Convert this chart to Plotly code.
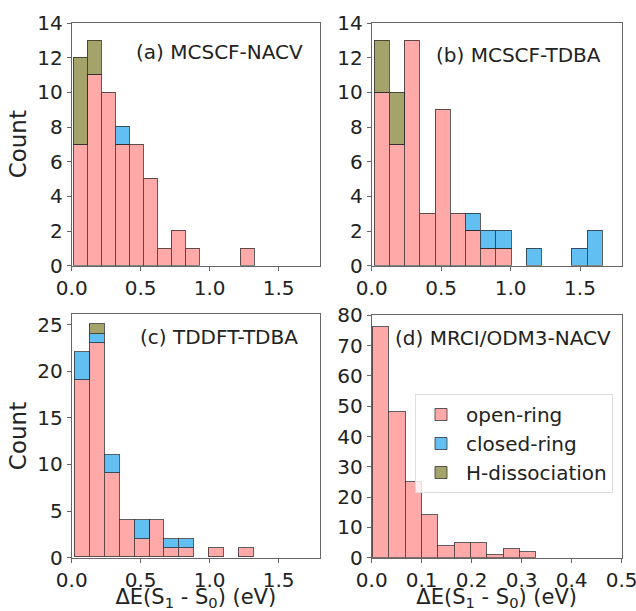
import plotly.graph_objects as go

# ---------------- data ----------------
categories = ["open-ring", "closed-ring", "H-dissociation"]
panel_titles = ["(a) MCSCF-NACV", "(b) MCSCF-TDBA", "(c) TDDFT-TDBA", "(d) MRCI/ODM3-NACV"]

# histogram bin layout per panel (first edge, bin width) in eV
bin_start = [0.016, 0.020, 0.024, 0.002]
bin_width = [0.101, 0.1095, 0.1077, 0.0327]

# (a) MCSCF-NACV
a_open = [7, 11, 10, 7, 7, 5, 1, 2, 1, 0, 0, 0, 1]
a_closed = [0, 0, 0, 1, 0, 0, 0, 0, 0, 0, 0, 0, 0]
a_hdis = [5, 2, 0, 0, 0, 0, 0, 0, 0, 0, 0, 0, 0]
# (b) MCSCF-TDBA
b_open = [10, 7, 13, 3, 9, 3, 2, 1, 1, 0, 0, 0, 0, 0, 0]
b_closed = [0, 0, 0, 0, 0, 0, 1, 1, 1, 0, 1, 0, 0, 1, 2]
b_hdis = [3, 3, 0, 0, 0, 0, 0, 0, 0, 0, 0, 0, 0, 0, 0]
# (c) TDDFT-TDBA
c_open = [19, 23, 9, 4, 2, 4, 1, 1, 0, 1, 0, 1]
c_closed = [3, 1, 2, 0, 2, 0, 1, 1, 0, 0, 0, 0]
c_hdis = [0, 1, 0, 0, 0, 0, 0, 0, 0, 0, 0, 0]
# (d) MRCI/ODM3-NACV
d_open = [76, 48, 25, 14, 4, 5, 5, 1, 3, 2]
d_closed = [0, 0, 0, 0, 0, 0, 0, 0, 0, 0]
d_hdis = [0, 0, 0, 0, 0, 0, 0, 0, 0, 0]

x_tickvals = [[0.0, 0.5, 1.0, 1.5], [0.0, 0.5, 1.0, 1.5], [0.0, 0.5, 1.0, 1.5],
              [0.0, 0.1, 0.2, 0.3, 0.4, 0.5]]
y_tickvals = [[0, 2, 4, 6, 8, 10, 12, 14], [0, 2, 4, 6, 8, 10, 12, 14],
              [0, 5, 10, 15, 20, 25], [0, 10, 20, 30, 40, 50, 60, 70, 80]]
x_ranges = [[0, 1.8], [0, 1.8], [0, 1.8], [0, 0.5002]]
y_ranges = [[0, 14.02], [0, 14.02], [0, 26.1], [0, 80.1]]

# ---------------- styling ----------------
W, H = 636, 611
colors = ["#FFA9A9", "#62BFF1", "#A3A36A"]
edge = "rgba(40,40,40,0.75)"
FONT = "DejaVu Sans"
TXT = "#222222"
SPINE = "#666666"
FS = 20

# axes boxes in pixels: (left, right, top, bottom)
boxes = [(71.7, 320.0, 22.7, 265.7), (371.7, 621.7, 22.7, 265.7),
         (71.7, 320.0, 314.3, 557.7), (371.7, 621.7, 315.0, 557.7)]

panels = [(a_open, a_closed, a_hdis), (b_open, b_closed, b_hdis),
          (c_open, c_closed, c_hdis), (d_open, d_closed, d_hdis)]

fig = go.Figure()
for p, series in enumerate(panels):
    n = len(series[0])
    centers = [bin_start[p] + bin_width[p] * (i + 0.5) for i in range(n)]
    xa = "x" if p == 0 else f"x{p+1}"
    ya = "y" if p == 0 else f"y{p+1}"
    for k, vals in enumerate(series):
        yv = [v if v > 0 else None for v in vals]
        fig.add_trace(go.Bar(
            x=centers, y=yv, width=[bin_width[p]] * n,
            name=categories[k], legendgroup=categories[k],
            showlegend=(p == 0),
            marker=dict(color=colors[k], line=dict(color=edge, width=1)),
            xaxis=xa, yaxis=ya,
        ))

layout = dict(
    width=W, height=H, margin=dict(l=0, r=0, t=0, b=0, autoexpand=False),
    paper_bgcolor="white", plot_bgcolor="white",
    barmode="stack", bargap=0,
    font=dict(family=FONT, size=FS, color=TXT),
    legend=dict(x=415 / W, y=1 - 394 / H, xanchor="left", yanchor="top",
                bordercolor="#DDDDDD", borderwidth=1, bgcolor="rgba(255,255,255,0.8)",
                font=dict(size=FS, family=FONT, color=TXT), traceorder="normal",
                tracegroupgap=0, itemwidth=40),
    showlegend=True,
)
for p in range(4):
    l, r, t, b = boxes[p]
    sx = "" if p == 0 else str(p + 1)
    layout["xaxis" + sx] = dict(
        domain=[l / W, r / W], range=x_ranges[p], anchor="y" + sx, automargin=False,
        tickvals=x_tickvals[p], tickformat=".1f", ticks="outside", ticklen=4,
        ticklabeloverflow="allow",
        tickcolor=SPINE, showline=True, linecolor=SPINE, linewidth=1, mirror=True,
        showgrid=False, zeroline=False, tickfont=dict(size=FS, family=FONT, color=TXT),
    )
    layout["yaxis" + sx] = dict(
        domain=[1 - b / H, 1 - t / H], range=y_ranges[p], anchor="x" + sx, automargin=False,
        tickvals=y_tickvals[p], ticks="outside", ticklen=4, ticklabeloverflow="allow",
        tickcolor=SPINE, showline=True, linecolor=SPINE, linewidth=1, mirror=True,
        showgrid=False, zeroline=False, tickfont=dict(size=FS, family=FONT, color=TXT),
    )
    if p in (0, 2):
        layout["yaxis" + sx]["title"] = dict(text="Count", font=dict(size=23, family=FONT, color=TXT), standoff=4)
    if p in (2, 3):
        layout["xaxis" + sx]["title"] = dict(text="ΔE(S<sub>1</sub> - S<sub>0</sub>) (eV)",
                                            font=dict(size=21, family=FONT, color=TXT), standoff=0)

fig.update_layout(**layout)

# panel labels
label_pos = [(305, 52), (603, 55), (300, 337), (613, 338)]
for p, (px, py) in enumerate(label_pos):
    fig.add_annotation(x=px / W, y=1 - py / H, xref="paper", yref="paper",
                       text=panel_titles[p], showarrow=False, xanchor="right", yanchor="middle",
                       font=dict(size=FS, family=FONT, color=TXT))

fig.write_html("out.html", config={"displayModeBar": False},
               post_script="document.body.style.margin='0px';document.body.style.overflow='hidden';")
